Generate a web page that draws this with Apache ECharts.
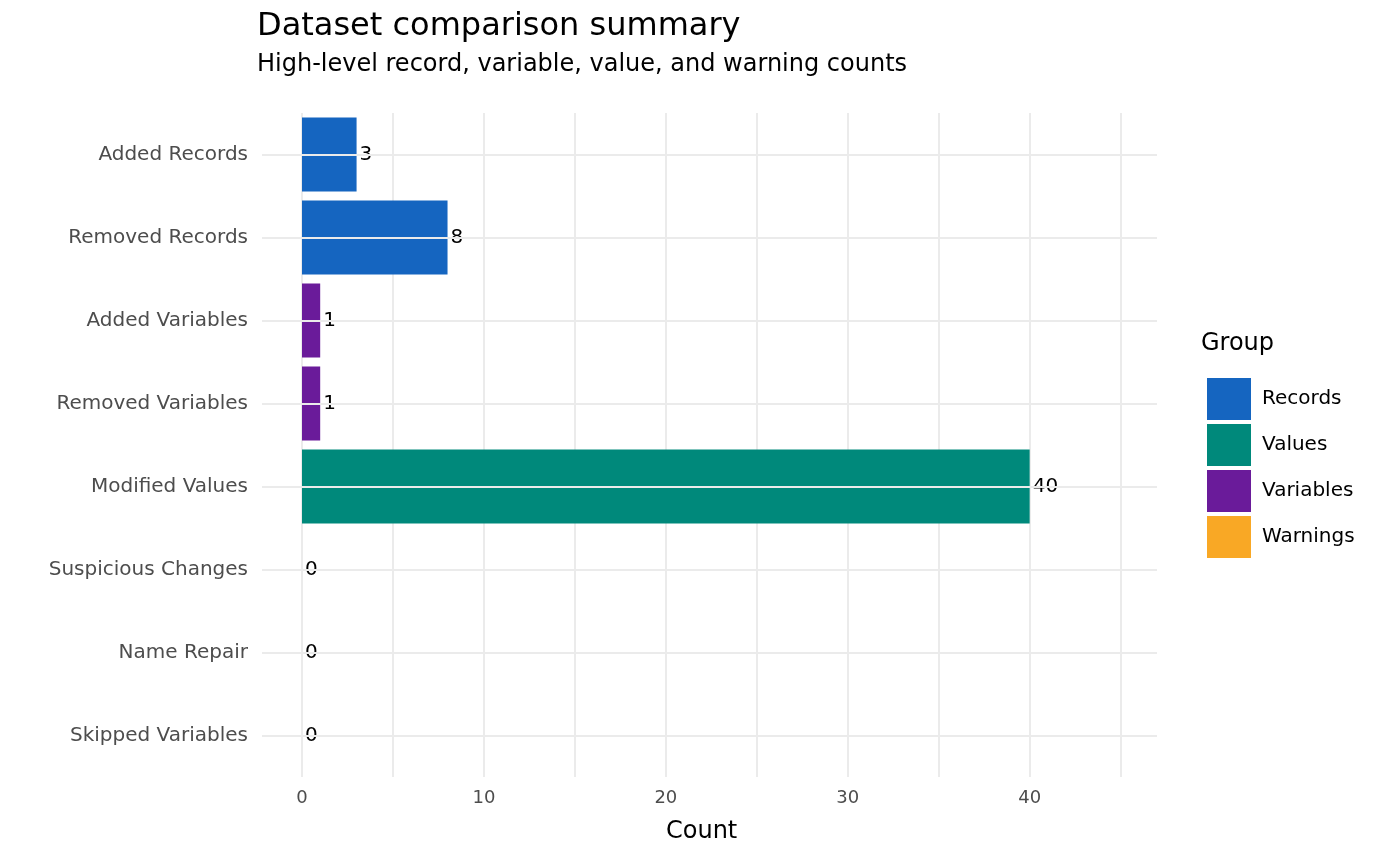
<!DOCTYPE html>
<html><head><meta charset="utf-8">
<script src="https://cdn.jsdelivr.net/npm/echarts@6/dist/echarts.min.js"></script>
<style>html,body{margin:0;background:#fff}#c{width:1400px;height:866px}</style>
</head><body><div id="c"></div>
<script>
var categories = ['Added Records','Removed Records','Added Variables','Removed Variables','Modified Values','Suspicious Changes','Name Repair','Skipped Variables'];
var groups = ['Records','Values','Variables','Warnings'];
var colors = ['#1565C0','#00897B','#6A1B9A','#F9A825'];
var records = [3, 8, null, null, null, null, null, null];
var values = [null, null, null, null, 40, null, null, null];
var variables = [null, null, 1, 1, null, null, null, null];
var warnings = [null, null, null, null, null, 0, 0, 0];
var xTicks = [0, 10, 20, 30, 40];
var F = 'DejaVu Sans';
var chart = echarts.init(document.getElementById('c'));
var seriesData = [records, values, variables, warnings];
var series = groups.map(function (g, i) {
    return {
        name: g, type: 'bar', stack: 'a', xAxisIndex: 1, yAxisIndex: 1,
        barCategoryGap: '11%', data: seriesData[i],
        itemStyle: {color: colors[i]},
        label: {show: true, position: 'right', distance: 3, color: '#000', fontFamily: F, fontSize: 20}
    };
});
series.unshift({
    type: 'line', xAxisIndex: 0, yAxisIndex: 0, data: [], silent: true,
    markLine: {symbol: 'none', silent: true, label: {show: false},
        lineStyle: {color: '#ebebeb', width: 2, type: 'solid'},
        data: categories.map(function (c) { return {yAxis: c}; })}
});
chart.setOption({
    animation: false,
    title: {text: 'Dataset comparison summary', subtext: 'High-level record, variable, value, and warning counts',
        left: 252, top: 6, itemGap: 10,
        textStyle: {fontFamily: F, fontSize: 32, fontWeight: 'normal', color: '#000'},
        subtextStyle: {fontFamily: F, fontSize: 24, color: '#000'}},
    legend: {orient: 'vertical', left: 1202, top: 373, itemWidth: 44, itemHeight: 42, itemGap: 4,
        icon: 'rect', data: groups, textStyle: {fontFamily: F, fontSize: 20, color: '#000', padding: [0, 0, 0, 6]}},
    graphic: [
        {type: 'text', left: 1201, top: 332, style: {text: 'Group', font: '24px DejaVu Sans', fill: '#000'}},
        {type: 'text', left: 666, top: 820, style: {text: 'Count', font: '24px DejaVu Sans', fill: '#000'}}
    ],
    grid: [
        {left: 262, right: 243, top: 113, bottom: 89},
        {left: 302, right: 243, top: 113, bottom: 89}
    ],
    xAxis: [
        {gridIndex: 0, type: 'value', min: 0, max: 1, show: false},
        {gridIndex: 1, type: 'value', min: 0, max: 47, interval: 5,
            axisLine: {show: false}, axisTick: {show: false},
            splitLine: {show: true, showMaxLine: false, lineStyle: {color: '#ebebeb', width: 2}},
            axisLabel: {fontFamily: F, fontSize: 18, color: '#4d4d4d', margin: 12, showMaxLabel: false,
                formatter: function (v) { return xTicks.indexOf(v) >= 0 ? String(v) : ''; }}}
    ],
    yAxis: [
        {gridIndex: 0, type: 'category', inverse: true, data: categories,
            axisLine: {show: false}, axisTick: {show: false}, splitLine: {show: false},
            axisLabel: {fontFamily: F, fontSize: 20, color: '#4d4d4d', margin: 14}},
        {gridIndex: 1, type: 'category', inverse: true, data: categories, show: false}
    ],
    series: series
});
</script></body></html>
